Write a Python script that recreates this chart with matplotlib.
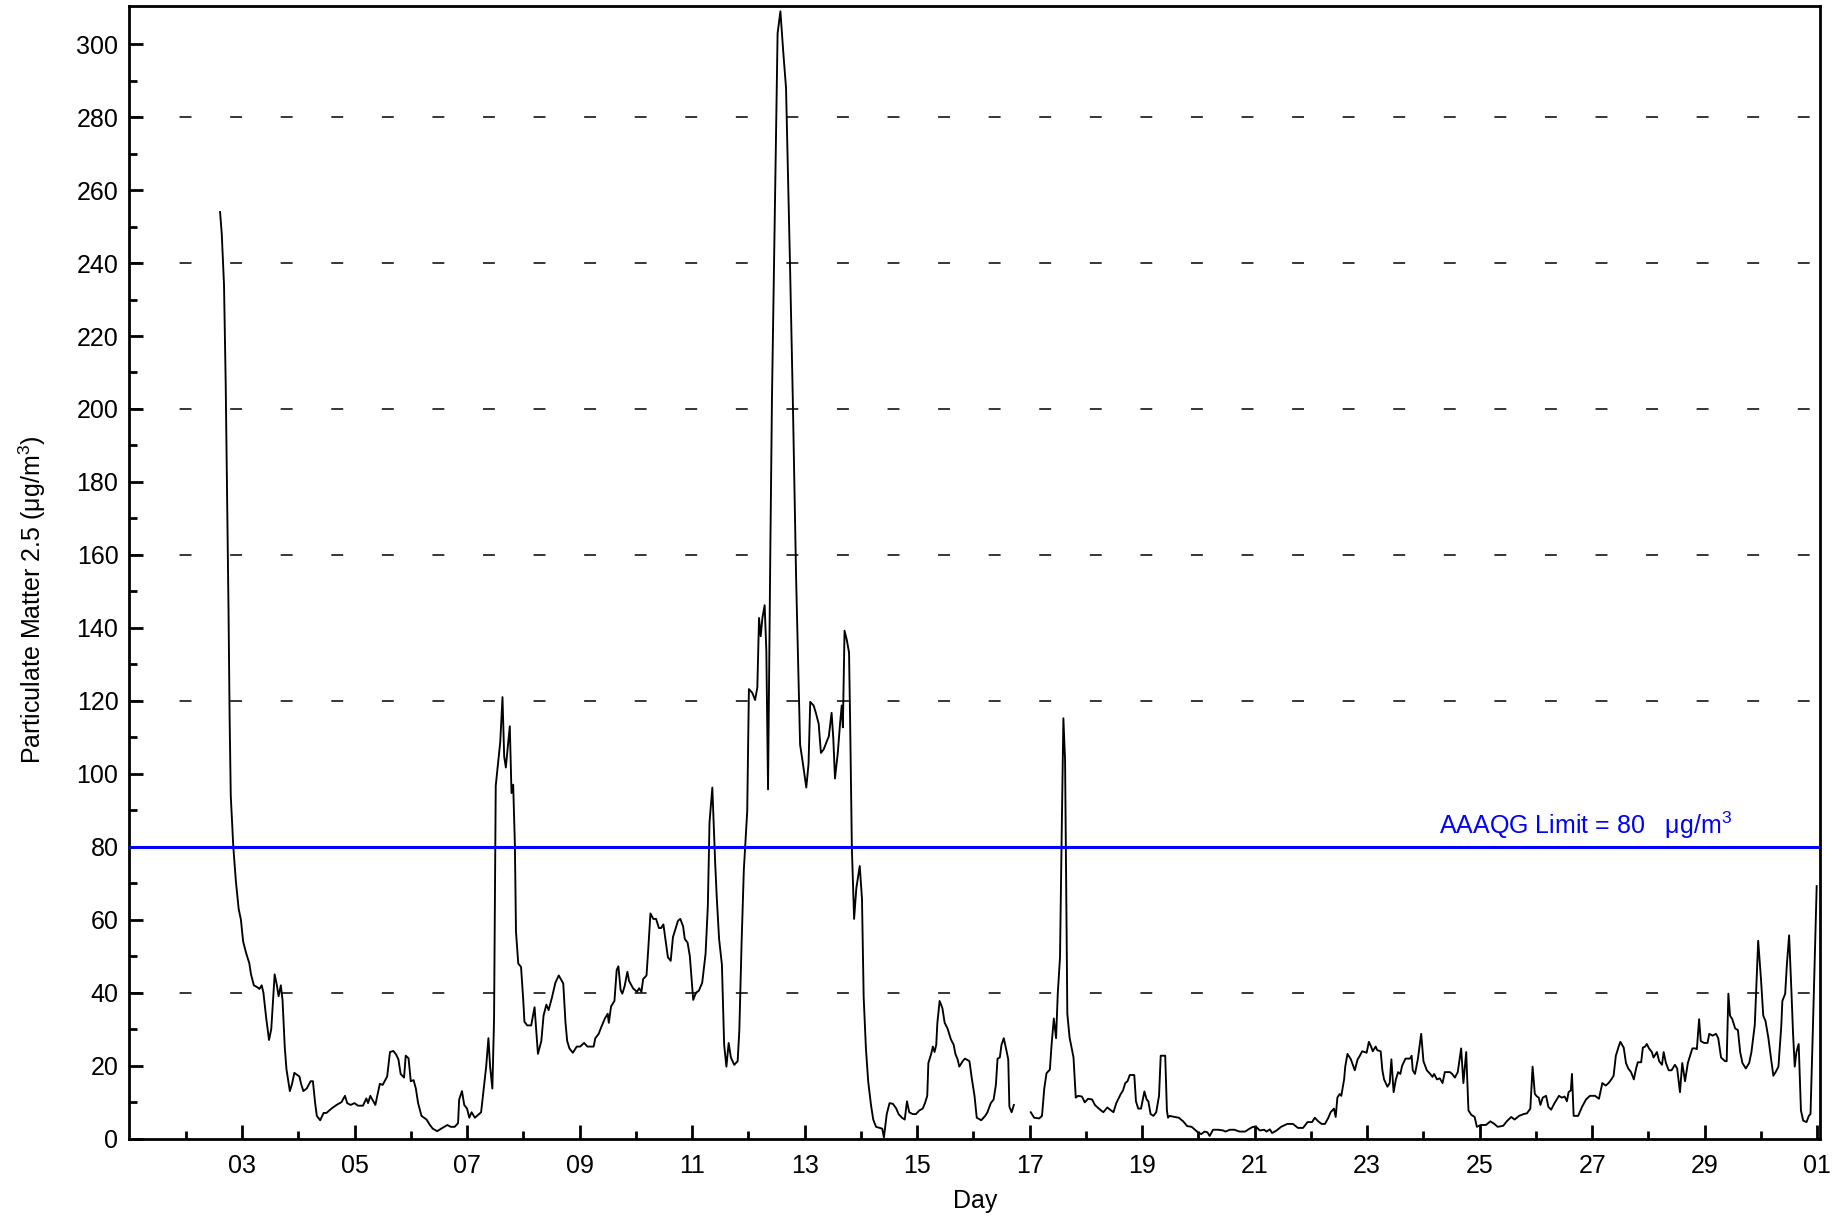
import numpy as np
import matplotlib
matplotlib.use("Agg")
import matplotlib.pyplot as plt

plt.rcParams['font.family'] = ['Liberation Sans', 'DejaVu Sans']
plt.rcParams['mathtext.fontset'] = 'custom'
plt.rcParams['mathtext.rm'] = 'Liberation Sans'
plt.rcParams['mathtext.it'] = 'Liberation Sans:italic'

# ---- data: time in days of month, PM2.5 (ug/m3) ----
day = [
    2.61, 2.64, 2.68, 2.71, 2.74, 2.76, 2.78, 2.80, 2.845, 2.89, 2.94, 2.98, 3.02, 3.07, 3.13, 3.16,
    3.21, 3.27, 3.31, 3.35, 3.38, 3.43, 3.48, 3.52, 3.58, 3.62, 3.65, 3.69, 3.72, 3.76, 3.79, 3.85,
    3.89, 3.93, 4.02, 4.05, 4.09, 4.15, 4.22, 4.26, 4.30, 4.33, 4.39, 4.45, 4.50, 4.59, 4.68, 4.77,
    4.83, 4.87, 4.93, 5.00, 5.06, 5.15, 5.21, 5.24, 5.28, 5.37, 5.45, 5.50, 5.58, 5.63, 5.69, 5.74,
    5.78, 5.82, 5.88, 5.91, 5.96, 6.00, 6.05, 6.09, 6.13, 6.19, 6.28, 6.34, 6.39, 6.47, 6.54, 6.65,
    6.71, 6.78, 6.84, 6.86, 6.91, 6.95, 7.00, 7.04, 7.08, 7.14, 7.20, 7.25, 7.29, 7.34, 7.38, 7.41,
    7.45, 7.48, 7.51, 7.55, 7.59, 7.63, 7.66, 7.69, 7.72, 7.76, 7.79, 7.82, 7.85, 7.87, 7.91, 7.96,
    8.00, 8.02, 8.07, 8.14, 8.20, 8.26, 8.32, 8.36, 8.41, 8.45, 8.51, 8.57, 8.63, 8.71, 8.75, 8.78,
    8.82, 8.88, 8.95, 9.01, 9.08, 9.14, 9.25, 9.28, 9.34, 9.39, 9.45, 9.50, 9.52, 9.56, 9.62, 9.66,
    9.69, 9.73, 9.76, 9.80, 9.85, 9.88, 9.95, 10.02, 10.06, 10.10, 10.13, 10.19, 10.22, 10.26, 10.31, 10.36,
    10.41, 10.45, 10.49, 10.53, 10.57, 10.62, 10.66, 10.71, 10.75, 10.79, 10.84, 10.87, 10.92, 10.96, 11.02, 11.07,
    11.12, 11.18, 11.24, 11.28, 11.31, 11.36, 11.41, 11.44, 11.48, 11.53, 11.57, 11.61, 11.65, 11.69, 11.75, 11.81,
    11.84, 11.88, 11.92, 11.98, 12.01, 12.07, 12.12, 12.16, 12.19, 12.22, 12.25, 12.29, 12.32, 12.35, 12.39, 12.42,
    12.52, 12.57, 12.62, 12.67, 12.74, 12.79, 12.85, 12.92, 12.98, 13.03, 13.07, 13.10, 13.16, 13.20, 13.25, 13.29,
    13.34, 13.39, 13.43, 13.48, 13.51, 13.54, 13.59, 13.63, 13.66, 13.68, 13.71, 13.75, 13.79, 13.81, 13.84, 13.88,
    13.92, 13.98, 14.02, 14.05, 14.09, 14.13, 14.18, 14.22, 14.27, 14.34, 14.38, 14.41, 14.46, 14.51, 14.57, 14.63,
    14.67, 14.73, 14.78, 14.82, 14.86, 14.92, 14.98, 15.04, 15.10, 15.14, 15.18, 15.20, 15.25, 15.28, 15.31, 15.34,
    15.36, 15.40, 15.45, 15.49, 15.54, 15.60, 15.65, 15.68, 15.72, 15.75, 15.81, 15.85, 15.93, 15.97, 16.02, 16.06,
    16.14, 16.21, 16.25, 16.31, 16.36, 16.40, 16.43, 16.47, 16.50, 16.54, 16.58, 16.62, 16.64, 16.68, 16.72, 16.87,
    17.02, 17.08, 17.17, 17.22, 17.26, 17.30, 17.36, 17.39, 17.43, 17.47, 17.50, 17.54, 17.57, 17.60, 17.63, 17.65,
    17.67, 17.71, 17.78, 17.82, 17.86, 17.93, 17.98, 18.04, 18.11, 18.16, 18.23, 18.31, 18.38, 18.49, 18.54, 18.62,
    18.66, 18.70, 18.74, 18.78, 18.86, 18.89, 18.93, 18.98, 19.04, 19.08, 19.11, 19.15, 19.20, 19.25, 19.30, 19.33,
    19.41, 19.44, 19.46, 19.49, 19.58, 19.65, 19.73, 19.80, 19.88, 19.93, 19.99, 20.05, 20.11, 20.16, 20.20, 20.26,
    20.35, 20.44, 20.48, 20.56, 20.64, 20.73, 20.83, 20.91, 20.97, 21.04, 21.09, 21.17, 21.21, 21.27, 21.31, 21.39,
    21.47, 21.58, 21.68, 21.77, 21.86, 21.94, 22.02, 22.07, 22.13, 22.19, 22.25, 22.31, 22.35, 22.41, 22.44, 22.47,
    22.51, 22.54, 22.59, 22.61, 22.65, 22.71, 22.78, 22.83, 22.87, 22.91, 22.96, 22.99, 23.03, 23.07, 23.10, 23.15,
    23.18, 23.24, 23.27, 23.30, 23.36, 23.40, 23.43, 23.47, 23.51, 23.55, 23.59, 23.62, 23.68, 23.76, 23.79, 23.81,
    23.85, 23.90, 23.96, 24.00, 24.06, 24.12, 24.16, 24.19, 24.24, 24.29, 24.34, 24.38, 24.47, 24.51, 24.56, 24.61,
    24.67, 24.71, 24.76, 24.80, 24.85, 24.91, 24.95, 25.02, 25.11, 25.19, 25.26, 25.32, 25.42, 25.48, 25.56, 25.62,
    25.70, 25.78, 25.84, 25.90, 25.94, 25.98, 26.02, 26.05, 26.08, 26.12, 26.18, 26.22, 26.27, 26.33, 26.41, 26.46,
    26.51, 26.55, 26.58, 26.62, 26.64, 26.67, 26.75, 26.82, 26.89, 26.96, 27.05, 27.12, 27.18, 27.24, 27.29, 27.34,
    27.38, 27.42, 27.47, 27.50, 27.56, 27.60, 27.64, 27.69, 27.74, 27.78, 27.81, 27.87, 27.90, 27.94, 27.97, 28.01,
    28.06, 28.09, 28.15, 28.19, 28.24, 28.27, 28.31, 28.36, 28.41, 28.47, 28.51, 28.56, 28.60, 28.65, 28.70, 28.74,
    28.78, 28.83, 28.86, 28.90, 28.93, 28.99, 29.05, 29.08, 29.14, 29.20, 29.24, 29.29, 29.36, 29.39, 29.42, 29.45,
    29.49, 29.54, 29.59, 29.63, 29.67, 29.73, 29.79, 29.83, 29.89, 29.95, 30.00, 30.04, 30.08, 30.13, 30.18, 30.22,
    30.26, 30.31, 30.36, 30.38, 30.43, 30.46, 30.50, 30.54, 30.57, 30.60, 30.63, 30.67, 30.71, 30.75, 30.81, 30.85,
    30.88, 30.92, 30.99,
]
pm25 = [
    254, 248, 234, 207, 170, 145, 115, 94, 80, 70.7, 63, 60, 54, 51, 48, 45,
    42, 41.5, 41, 42, 40, 33, 27, 30, 45, 42, 39, 42, 38, 25, 19, 13,
    15, 18, 17, 15, 13, 13.7, 15.7, 15.7, 9.7, 6.2, 5, 7, 7, 8.2, 9.2, 10,
    11.7, 9.7, 9.2, 9.7, 9, 9, 11, 9.7, 11.7, 9.2, 15, 14.7, 17, 23.7, 24, 23,
    21.7, 17.7, 16.7, 22.7, 22, 15.7, 16, 13.7, 9.7, 6.2, 5.2, 3.7, 2.7, 2.0, 2.7, 3.7,
    3.2, 3.2, 4.2, 10.7, 13, 9.2, 8.2, 5.7, 7.2, 5.7, 6.5, 7.2, 12.7, 19.7, 27.5, 19.7,
    13.7, 32.7, 96.7, 102.7, 108.7, 121, 104.7, 101.7, 106.7, 113, 94.7, 97, 80.7, 56.7, 48, 47,
    37.7, 32, 31, 31, 36, 23.2, 26.7, 33.7, 36.7, 35.2, 38.7, 42.7, 44.7, 42.5, 31.7, 26.7,
    24.7, 23.5, 25.2, 25.2, 26.2, 25.2, 25.2, 27.5, 28.7, 30.7, 32.9, 34.2, 31.7, 36.2, 37.7, 46.2,
    47.2, 40.7, 39.7, 41.7, 45.7, 43.2, 41.2, 40.2, 41.2, 40.2, 43.7, 44.7, 51.7, 61.7, 60.2, 60.2,
    57.7, 57.7, 58.7, 54.2, 49.7, 48.7, 55.2, 57.7, 59.7, 60.2, 58.2, 54.7, 53.7, 50, 38, 40,
    40.5, 42.7, 50.7, 63.7, 86.7, 96.2, 75.7, 65.7, 54.7, 47.7, 25.7, 19.7, 26.2, 22.2, 20.2, 21.2,
    29.7, 53.7, 73.7, 89.7, 123.2, 122.2, 120.2, 123.7, 142.7, 137.7, 142.7, 146.2, 133.7, 95.7, 160, 203,
    303, 309, 298, 288, 240, 203, 153, 108, 101.7, 96.2, 102.7, 119.7, 118.7, 116.7, 113.7, 105.7,
    106.7, 108.7, 110.2, 116.7, 109.7, 98.7, 105.7, 113.7, 118.7, 112.7, 139.2, 136.7, 133.2, 113.7, 79.7, 60.2,
    68.7, 74.7, 65.7, 38.7, 24.7, 15.7, 9.2, 5.2, 3.2, 2.9, 2.7, 0.3, 6.7, 9.7, 9.5, 8.2,
    6.7, 5.7, 5.2, 10.2, 7.2, 6.7, 6.7, 7.7, 8.2, 9.7, 11.7, 20.7, 23.2, 25.2, 23.7, 25.7,
    31.7, 37.7, 35.7, 31.7, 30.2, 27.2, 25.7, 23.2, 21.7, 19.7, 21.2, 21.9, 21.2, 16.7, 11.7, 5.7,
    5.0, 6.2, 7.2, 9.7, 10.7, 14.7, 21.9, 22.2, 25.7, 27.5, 24.7, 21.7, 8.7, 7.2, 9.2, np.nan,
    7.2, 5.7, 5.5, 6.2, 13.7, 17.9, 18.9, 25.7, 32.9, 27.5, 39.7, 49.7, 83.7, 115.2, 103.7, 68.7,
    34.2, 27.7, 22.2, 11.2, 11.7, 11.5, 9.9, 10.9, 10.7, 9.2, 8.2, 7.2, 8.5, 7.2, 9.7, 12.2,
    13.2, 15.2, 15.7, 17.4, 17.4, 10.2, 8.2, 8.2, 12.9, 10.7, 10.2, 6.7, 6.2, 7.2, 11.7, 22.7,
    22.7, 7.7, 5.7, 6.2, 5.9, 5.7, 4.7, 3.4, 3.2, 2.5, 1.7, 1.2, 1.9, 1.7, 0.7, 2.4,
    2.4, 2.2, 1.9, 2.4, 2.4, 1.9, 1.9, 2.7, 3.2, 3.0, 2.2, 2.4, 1.9, 2.5, 1.5, 2.2,
    3.2, 4.0, 4.0, 2.9, 2.9, 4.5, 4.5, 5.7, 4.7, 4.0, 4.0, 5.7, 7.2, 8.2, 5.9, 11.2,
    12.2, 11.7, 16.2, 19.7, 23.2, 21.7, 18.7, 21.7, 22.7, 23.9, 23.7, 23.5, 26.5, 25.2, 23.9, 25.2,
    24.2, 23.9, 18.7, 16.2, 14.2, 15.2, 21.7, 12.7, 16.2, 18.2, 17.7, 19.9, 21.9, 21.9, 22.7, 18.7,
    17.7, 21.7, 28.7, 21.2, 18.7, 17.7, 16.9, 17.7, 16.2, 16.5, 15.2, 18.2, 18.2, 17.7, 16.7, 18.2,
    24.7, 15.2, 23.7, 7.7, 6.5, 5.9, 3.2, 3.7, 3.7, 4.7, 4.0, 3.2, 3.5, 4.7, 5.9, 5.2,
    6.2, 6.7, 6.9, 8.2, 19.7, 12.2, 11.5, 11.2, 9.2, 11.2, 11.7, 8.7, 7.9, 9.7, 11.7, 11.2,
    11.5, 10.2, 12.7, 13.2, 17.7, 6.2, 6.2, 8.7, 10.7, 11.7, 11.7, 10.9, 15.2, 14.5, 15.2, 16.2,
    17.2, 22.7, 25.2, 26.5, 24.9, 20.7, 19.2, 18.2, 16.2, 19.2, 20.9, 20.9, 24.9, 25.2, 25.9, 24.7,
    23.7, 22.2, 23.7, 21.2, 20.2, 23.7, 20.7, 18.7, 18.7, 20.2, 19.2, 12.7, 20.7, 15.7, 20.7, 22.7,
    24.7, 24.7, 24.5, 32.7, 26.7, 26.2, 26.2, 28.7, 28.2, 28.7, 27.5, 22.2, 21.2, 21.2, 39.7, 33.7,
    32.7, 30.2, 29.7, 23.7, 20.7, 19.2, 20.7, 23.7, 31.2, 54.2, 43.7, 33.7, 32.2, 27.7, 21.7, 17.2,
    18.2, 19.7, 30.7, 37.7, 39.7, 47.7, 55.7, 40.7, 28.7, 19.7, 23.7, 25.9, 7.7, 4.9, 4.5, 6.2,
    6.7, 28.7, 69.2,
]

limit_value = 80
limit_label = "AAAQG Limit = 80   μg/m$^{3}$"
xtick_days = [3, 5, 7, 9, 11, 13, 15, 17, 19, 21, 23, 25, 27, 29, 31]
xtick_labels = ["03", "05", "07", "09", "11", "13", "15", "17", "19", "21", "23", "25", "27", "29", "01"]
ytick_values = [0, 20, 40, 60, 80, 100, 120, 140, 160, 180, 200, 220, 240, 260, 280, 300]
grid_values = [40, 120, 160, 200, 240, 280]

fig = plt.figure(figsize=(18.46, 12.18), dpi=100)
ax = fig.add_axes([0.07015, 0.06527, 0.9158, 0.9299])

FS = 18
for y in grid_values:
    ax.axhline(y, color='black', lw=1.1, linestyle=(0, (7.8, 25.3)), zorder=1)

ax.plot(day, pm25, color='black', lw=1.35, zorder=3)
ax.axhline(limit_value, color='#0000FF', lw=2.2, zorder=4)
ax.text(24.28, 83.6, limit_label, color='#0000FF', fontsize=FS, ha='left', va='baseline', zorder=5)

ax.set_xlim(1.0, 31.05)
ax.set_ylim(0, 310.5)
ax.set_xticks(xtick_days)
ax.set_xticklabels(xtick_labels)
ax.set_xticks(np.arange(2, 31, 2), minor=True)
ax.set_yticks(ytick_values)
ax.set_yticklabels([str(v) for v in ytick_values])
ax.set_yticks(np.arange(10, 310, 20), minor=True)

ax.tick_params(axis='both', which='major', direction='in', length=10, width=2.0,
               labelsize=FS, top=False, right=False)
ax.tick_params(axis='both', which='minor', direction='in', length=5.5, width=2.0,
               top=False, right=False)
ax.tick_params(axis='x', which='major', pad=11)
ax.tick_params(axis='y', which='major', pad=8)

for s in ax.spines.values():
    s.set_linewidth(2.0)
    s.set_color('black')

ax.set_xlabel("Day", fontsize=FS, va='center')
ax.xaxis.set_label_coords(0.5, -0.0551)
ax.set_ylabel("Particulate Matter 2.5 (μg/m$^{3}$)", fontsize=FS, va='center')
ax.yaxis.set_label_coords(-0.0575, 0.4755)

fig.savefig("out.png", dpi=100)
